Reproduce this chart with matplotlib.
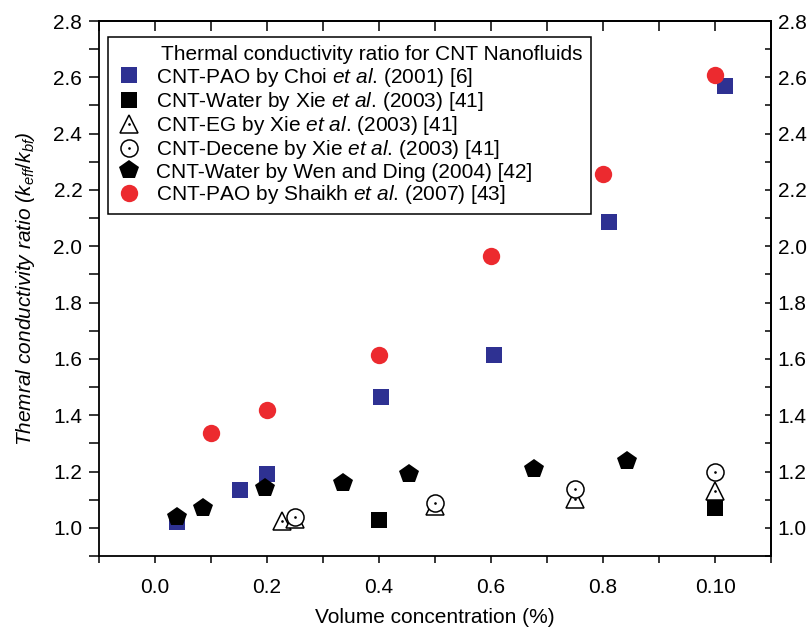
import matplotlib
matplotlib.use('Agg')
import matplotlib.pyplot as plt
from matplotlib.ticker import MultipleLocator

plt.rcParams['font.family'] = ['Liberation Sans', 'DejaVu Sans']
plt.rcParams['mathtext.fontset'] = 'custom'
plt.rcParams['mathtext.rm'] = 'Liberation Sans'
plt.rcParams['mathtext.it'] = 'Liberation Sans:italic'

# data
choi_x = [0.04, 0.152, 0.20, 0.403, 0.606, 0.811, 1.018]
choi_y = [1.02, 1.135, 1.19, 1.464, 1.615, 2.087, 2.57]

xie_water_x = [0.40, 1.00]
xie_water_y = [1.028, 1.07]

xie_eg_x = [0.227, 0.25, 0.50, 0.75, 1.00]
xie_eg_y = [1.025, 1.03, 1.077, 1.104, 1.13]

xie_decene_x = [0.25, 0.50, 0.75, 1.00]
xie_decene_y = [1.04, 1.087, 1.137, 1.20]

wen_x = [0.04, 0.086, 0.196, 0.336, 0.454, 0.677, 0.842]
wen_y = [1.04, 1.07, 1.141, 1.159, 1.192, 1.208, 1.236]

shaikh_x = [0.10, 0.20, 0.40, 0.60, 0.80, 1.00]
shaikh_y = [1.337, 1.417, 1.615, 1.966, 2.256, 2.608]

xtick_pos = [0.0, 0.2, 0.4, 0.6, 0.8, 1.0]
xtick_labels = ['0.0', '0.2', '0.4', '0.6', '0.8', '0.10']
ytick_pos = [1.0, 1.2, 1.4, 1.6, 1.8, 2.0, 2.2, 2.4, 2.6, 2.8]
ytick_labels = ['%.1f' % v for v in ytick_pos]

labels = [
    r'CNT-PAO by Choi $\mathit{et\ al}$. (2001) [6]',
    r'CNT-Water by Xie $\mathit{et\ al}$. (2003) [41]',
    r'CNT-EG by Xie $\mathit{et\ al}$. (2003) [41]',
    r'CNT-Decene by Xie $\mathit{et\ al}$. (2003) [41]',
    'CNT-Water by Wen and Ding (2004) [42]',
    r'CNT-PAO by Shaikh $\mathit{et\ al}$. (2007) [43]',
]

fs = 15
blue = '#2e3192'
red = '#ec2a2f'

fig = plt.figure(figsize=(8.11, 6.27), dpi=100)
ax = fig.add_axes([0.122, 0.1132, 0.829, 0.8533])

h_choi, = ax.plot(choi_x, choi_y, 's', color=blue, markersize=11.3, markeredgewidth=0, zorder=3)
h_water, = ax.plot(xie_water_x, xie_water_y, 's', color='black', markersize=11.8, markeredgewidth=0, zorder=3)
h_eg, = ax.plot(xie_eg_x, xie_eg_y, '^', markerfacecolor='white', markeredgecolor='black',
                markersize=13.5, markeredgewidth=1.1, zorder=4)
h_eg_dot, = ax.plot(xie_eg_x, xie_eg_y, '.', color='black', markersize=1.8, zorder=4)
h_dec, = ax.plot(xie_decene_x, xie_decene_y, 'o', markerfacecolor='white', markeredgecolor='black',
                 markersize=12.3, markeredgewidth=1.1, zorder=5)
h_dec_dot, = ax.plot(xie_decene_x, xie_decene_y, '.', color='black', markersize=1.8, zorder=5)
h_wen, = ax.plot(wen_x, wen_y, 'p', color='black', markersize=15, markeredgewidth=0, zorder=6)
h_shaikh, = ax.plot(shaikh_x, shaikh_y, 'o', color=red, markersize=12.5, markeredgewidth=0, zorder=7)

ax.set_xlim(-0.1, 1.1)
ax.set_ylim(0.9, 2.8)
ax.set_xticks(xtick_pos)
ax.set_xticklabels(xtick_labels)
ax.xaxis.set_minor_locator(MultipleLocator(0.1))
ax.set_yticks(ytick_pos)
ax.set_yticklabels(ytick_labels)
ax.yaxis.set_minor_locator(MultipleLocator(0.1))

# bottom/left ticks point out, top/right ticks point in
ax.tick_params(axis='x', which='both', direction='out', length=5, width=1.1, labelsize=fs, pad=10.5)
ax.tick_params(axis='y', which='both', direction='out', length=7, width=1.1, labelsize=fs, pad=5)

top = ax.secondary_xaxis('top')
top.set_xticks(xtick_pos)
top.xaxis.set_minor_locator(MultipleLocator(0.1))
top.tick_params(which='both', direction='in', length=7.5, width=1.1, labeltop=False)

right = ax.secondary_yaxis('right')
right.set_yticks(ytick_pos)
right.set_yticklabels(ytick_labels)
right.yaxis.set_minor_locator(MultipleLocator(0.1))
right.tick_params(which='both', direction='in', length=4.5, width=1.1, labelsize=fs, pad=4.5)

for a in (ax, top, right):
    for s in a.spines.values():
        s.set_linewidth(1.3)

ax.set_xlabel('Volume concentration (%)', fontsize=fs, labelpad=8)
ax.set_ylabel(r'Themral conductivity ratio ($k_{eff}/k_{bf}$)', fontsize=fs, style='italic')
ax.yaxis.set_label_coords(-0.092, 0.5)

leg = ax.legend([h_choi, h_water, (h_eg, h_eg_dot), (h_dec, h_dec_dot), h_wen, h_shaikh], labels,
                title='Thermal conductivity ratio for CNT Nanofluids', title_fontsize=fs,
                fontsize=fs, loc='upper left', bbox_to_anchor=(0.0134, 0.645, 0.7186, 0.325),
                mode='expand', alignment='right', borderaxespad=0, frameon=True, fancybox=False,
                edgecolor='black', framealpha=1, labelspacing=0.06, handlelength=1.2,
                handletextpad=0.72, borderpad=0.4, numpoints=1)
leg.get_frame().set_linewidth(1.1)
leg.set_zorder(10)

fig.savefig('out.png', dpi=100)
